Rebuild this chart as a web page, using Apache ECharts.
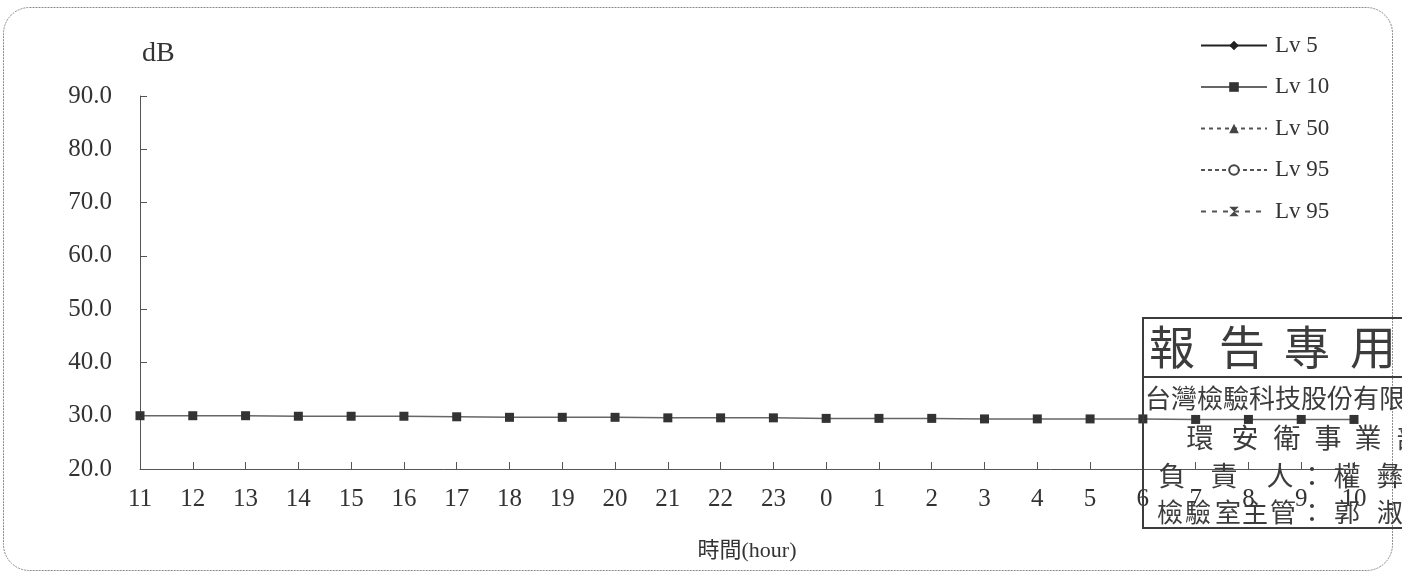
<!DOCTYPE html>
<html><head><meta charset="utf-8">
<script src="https://cdn.jsdelivr.net/npm/echarts@6/dist/echarts.min.js"></script>
<style>html,body{margin:0;padding:0;background:#fff}#c{width:1402px;height:574px}</style>
</head><body><div id="c"></div>
<script>
// ---- data ----
const hours = ['11','12','13','14','15','16','17','18','19','20','21','22','23','0','1','2','3','4','5','6','7','8','9','10'];
const lv5 = [];
const lv10 = [30.0,30.0,30.0,29.9,29.9,29.9,29.8,29.7,29.7,29.7,29.6,29.6,29.6,29.5,29.5,29.5,29.4,29.4,29.4,29.4,29.3,29.3,29.3,29.3];
const lv50 = [];
const lv95 = [];
const lv95b = [];
const seriesNames = ['Lv 5','Lv 10','Lv 50','Lv 95','Lv 95 '];
const yTicks = {min:20, max:90, interval:10};
const xTitle = '時間(hour)';
const yTitle = 'dB';
const stampTitle = '報告專用';
const stampCompany = '台灣檢驗科技股份有限公司';
const stampDept = '環安衛事業部';
const stampRow4 = '負責人：權彝';
const stampRow5 = '檢驗室主管：郭淑';

const SERIF = '"Liberation Serif","Times New Roman","Noto Sans CJK TC",serif';
const CJK = '"Noto Sans CJK TC","Noto Sans CJK SC",sans-serif';
const INK = '#3c3c3c';

function chars(str, xs, y, size){
  return str.split('').map((ch,i)=>({
    type:'text', silent:true, z:50,
    style:{text:ch, x:xs[i], y:y, font:'400 '+size+'px '+CJK, fill:INK, align:'center', verticalAlign:'middle'}
  }));
}

const chart = echarts.init(document.getElementById('c'), null, {renderer:'canvas'});
const graphics = [
  {type:'rect', silent:true, z:-1, shape:{x:3.5,y:7.5,width:1389,height:563,r:26}, style:{fill:'none', stroke:'#8a8a8a', lineWidth:1, lineDash:[2,1]}},
  {type:'rect', silent:true, z:50, shape:{x:1143,y:318,width:300,height:210}, style:{fill:'none', stroke:INK, lineWidth:2}},
  {type:'line', silent:true, z:50, shape:{x1:1143,y1:377,x2:1402,y2:377}, style:{stroke:INK, lineWidth:2}},
  ...chars(stampTitle, [1172,1242,1307,1373], 347, 46),
  {type:'text', silent:true, z:50, style:{text:stampCompany, x:1145, y:398, font:'400 26px '+CJK, fill:INK, align:'left', verticalAlign:'middle'}},
  ...chars(stampDept, [1200,1245,1287,1328,1368,1410], 438, 27),
  ...chars(stampRow4, [1172,1224,1280,1312,1347,1390], 476, 27),
  ...chars(stampRow5, [1170,1198,1228,1255,1283,1312,1347,1390], 512, 26)
];

chart.setOption({
  animation:false,
  backgroundColor:'#fff',
  graphic: graphics,
  grid:{left:140, right:48, top:96, bottom:105},
  legend:{
    orient:'vertical', left:1195, top:29,
    itemWidth:66, itemHeight:12, itemGap:18.5,
    data: seriesNames,
    textStyle:{fontFamily:SERIF, fontSize:23, color:'#333', padding:[0,0,0,3]}
  },
  xAxis:{
    type:'category', data:hours, boundaryGap:false,
    name:xTitle, nameLocation:'middle', nameGap:71,
    nameTextStyle:{fontFamily:SERIF, fontSize:22, color:'#333'},
    axisLine:{lineStyle:{color:'#555', width:1}},
    axisTick:{inside:true, length:7, lineStyle:{color:'#555'}},
    axisLabel:{fontFamily:SERIF, fontSize:25, color:'#333', margin:18},
    splitLine:{show:false}
  },
  yAxis:{
    type:'value', min:yTicks.min, max:yTicks.max, interval:yTicks.interval,
    name:yTitle, nameGap:28,
    nameTextStyle:{fontFamily:SERIF, fontSize:28, color:'#333', align:'left', padding:[0,0,0,2]},
    axisLine:{show:true, lineStyle:{color:'#555', width:1}},
    axisTick:{show:true, inside:true, length:7, lineStyle:{color:'#555'}},
    axisLabel:{fontFamily:SERIF, fontSize:25, color:'#333', margin:28, formatter:v=>v.toFixed(1)},
    splitLine:{show:false}
  },
  series:[
    {name:seriesNames[0], type:'line', data:lv5, symbol:'diamond', symbolSize:9,
     lineStyle:{color:'#222', width:1.5}, itemStyle:{color:'#222'}},
    {name:seriesNames[1], type:'line', data:lv10, symbol:'rect', symbolSize:9, showAllSymbol:true,
     lineStyle:{color:'#666', width:1.5}, itemStyle:{color:'#333'}},
    {name:seriesNames[2], type:'line', data:lv50, symbol:'triangle', symbolSize:6,
     lineStyle:{color:'#555', width:1, type:[4,4]}, itemStyle:{color:'#444'}},
    {name:seriesNames[3], type:'line', data:lv95, symbol:'emptyCircle', symbolSize:6,
     lineStyle:{color:'#555', width:1, type:[4,3]}, itemStyle:{color:'#444', borderWidth:1.5}},
    {name:seriesNames[4], type:'line', data:lv95b, symbol:'path://M0,0L10,0L0,10L10,10Z', symbolSize:6,
     lineStyle:{color:'#555', width:1, type:[5,6]}, itemStyle:{color:'#444'}}
  ]
});
</script></body></html>
